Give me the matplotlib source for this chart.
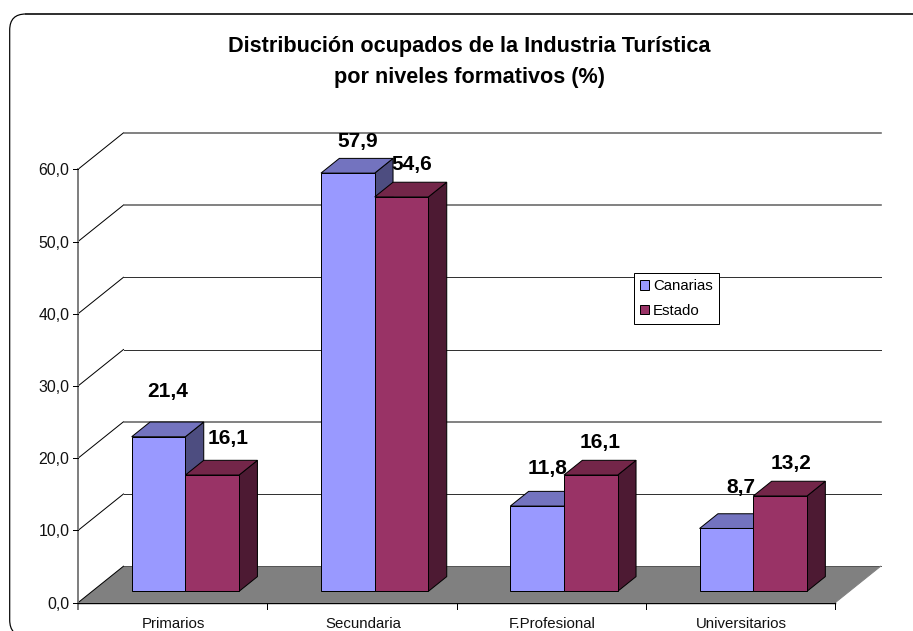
import matplotlib
matplotlib.use("Agg")
import matplotlib.pyplot as plt
from matplotlib.patches import Polygon, FancyBboxPatch, Patch

categories = ["Primarios", "Secundaria", "F.Profesional", "Universitarios"]
canarias = [21.4, 57.9, 11.8, 8.7]
estado = [16.1, 54.6, 16.1, 13.2]
series_names = ["Canarias", "Estado"]
y_ticks = [0, 10, 20, 30, 40, 50, 60]
title = "Distribución ocupados de la Industria Turística\npor niveles formativos (%)"

W, H = 913, 631
PX_X0, PX_CAT = 78.0, 189.3      # pixel of category 0, pixels per category
PX_Y0, PX_VAL = 602.7, 7.223     # pixel of value 0, pixels per value unit
DX, DY = 45.5 / PX_CAT, 36.5 / PX_VAL   # full depth offset in data units
BAR_W = 53.7 / PX_CAT
BAR_START = 39.5 / PX_CAT
BAR_D0, BAR_D1 = 0.312, 0.715    # bar depth range (0=front, 1=back wall)

C_BLUE, C_BLUE_TOP, C_BLUE_SIDE = "#9999FF", "#7373BF", "#4D4D80"
C_RED, C_RED_TOP, C_RED_SIDE = "#993366", "#732649", "#4D1A33"
FONT = "Liberation Sans"
px = 0.72  # one pixel in points at 100 dpi

fig = plt.figure(figsize=(W / 100, H / 100), dpi=100)
fig.patch.set_facecolor("white")

# Frame, partly off the canvas
fax = fig.add_axes([0, 0, 1, 1], zorder=0)
fax.set_xlim(0, W); fax.set_ylim(H, 0); fax.axis("off")
fax.add_patch(FancyBboxPatch((9.7 + 16, 14 + 16), 960, 590,
                             boxstyle="round,pad=16,rounding_size=16",
                             fc="white", ec="black", lw=1.2 * px))
fax.plot([26, W], [14, 14], color="#333333", lw=2 * px)

ax = fig.add_axes([0, 0, 1, 1], zorder=1)
ax.patch.set_alpha(0)
ax.set_xlim(-PX_X0 / PX_CAT, (W - PX_X0) / PX_CAT)
ax.set_ylim((PX_Y0 - H) / PX_VAL, PX_Y0 / PX_VAL)
ax.axis("off")

n = len(categories)
def pr(x, v, d):
    return (x + d * DX, v + d * DY)

# Floor
ax.add_patch(Polygon([pr(0, 0, 0), pr(n, 0, 0), pr(n, 0, 1), pr(0, 0, 1)],
                     closed=True, fc="#808080", ec="none", zorder=1))
ax.plot(*zip(pr(0, 0, 1), pr(n, 0, 1)), color="#555555", lw=1 * px, zorder=1.2)
ax.plot(*zip(pr(n, 0, 0), pr(n, 0, 1)), color="#808080", lw=1 * px, zorder=1.2)

# Gridlines (back wall + left wall)
for v in y_ticks:
    ax.plot(*zip(pr(0, v, 0), pr(0, v, 1)), color="black", lw=1 * px, zorder=1.5)
    if v > 0:
        ax.plot(*zip(pr(0, v, 1), pr(n, v, 1)),
                color="#666666" if v >= 50 or v == 20 else "#333333",
                lw=(1.6 if v >= 50 or v == 20 else 1) * px, zorder=1.5)

# Axes
ymin_tick = -6 / PX_VAL
ax.plot([0, 0], [ymin_tick, y_ticks[-1]], color="#808080", lw=2 * px, zorder=2)
ax.plot([0, n], [0, 0], color="black", lw=1.4 * px, zorder=2.1)
for i in range(1, n + 1):
    ax.plot([i, i], [ymin_tick, 0], color="black", lw=1 * px, zorder=2)
for v in y_ticks:
    ax.plot([-5 / PX_CAT, 0], [v, v], color="black", lw=1 * px, zorder=2)
    ax.text(-8.5 / PX_CAT, v, f"{v:.1f}".replace(".", ","), ha="right", va="center_baseline",
            fontsize=11.4, family=FONT, color="#111111", zorder=6)
for i, c in enumerate(categories):
    ax.text(i + 0.5 + 1 / PX_CAT, -19.3 / PX_VAL, c, ha="center", va="center_baseline",
            fontsize=10.8, family=FONT, color="#111111", zorder=6)

def bar3d(x0, value, front, top, side, z):
    x1 = x0 + BAR_W
    ax.add_patch(Polygon([pr(x1, 0, BAR_D0), pr(x1, 0, BAR_D1), pr(x1, value, BAR_D1), pr(x1, value, BAR_D0)],
                         fc=side, ec="black", lw=1 * px, joinstyle="miter", zorder=z))
    ax.add_patch(Polygon([pr(x0, value, BAR_D0), pr(x1, value, BAR_D0), pr(x1, value, BAR_D1), pr(x0, value, BAR_D1)],
                         fc=top, ec="black", lw=1 * px, joinstyle="miter", zorder=z))
    ax.add_patch(Polygon([pr(x0, 0, BAR_D0), pr(x1, 0, BAR_D0), pr(x1, value, BAR_D0), pr(x0, value, BAR_D0)],
                         fc=front, ec="black", lw=1 * px, joinstyle="miter", zorder=z))

for i in range(n):
    x = i + BAR_START
    bar3d(x, canarias[i], C_BLUE, C_BLUE_TOP, C_BLUE_SIDE, 3 + i * 0.1)
    bar3d(x + BAR_W, estado[i], C_RED, C_RED_TOP, C_RED_SIDE, 3.05 + i * 0.1)

# Data labels: hand-placed offsets (pixels) from each bar's front top-left corner
label_nudge = [[(36, 47), (43, 39)], [(37, 34), (37, 34)], [(37, 40), (36, 35)], [(41, 43), (38, 34)]]
for i in range(n):
    for j, vals in enumerate((canarias, estado)):
        xb, yb = pr(i + BAR_START + j * BAR_W, vals[i], BAR_D0)
        nx, ny = label_nudge[i][j]
        ax.text(xb + nx / PX_CAT, yb + ny / PX_VAL, f"{vals[i]:.1f}".replace(".", ","),
                ha="center", va="center_baseline", fontsize=15, fontweight="bold",
                family=FONT, color="black", zorder=7)

ax.text(0.5145, 1 - 62 / H, title, transform=ax.transAxes, ha="center", va="center",
        fontsize=15.6, fontweight="bold", family=FONT, linespacing=1.64, zorder=7)

handles = [Patch(fc=C_BLUE, ec="black", lw=1 * px), Patch(fc=C_RED, ec="black", lw=1 * px)]
leg = ax.legend(handles, series_names, loc="upper left",
                bbox_to_anchor=(634 / W, 1 - 273 / H), bbox_transform=ax.transAxes,
                borderaxespad=0, fancybox=False, framealpha=1, edgecolor="black",
                prop={"family": FONT, "size": 10.8}, handlelength=0.55, handleheight=0.55,
                handletextpad=0.3, labelspacing=0.72, borderpad=0.42)
leg.get_frame().set_linewidth(1 * px)
leg.set_zorder(8)

fig.savefig("out.png", dpi=100)
